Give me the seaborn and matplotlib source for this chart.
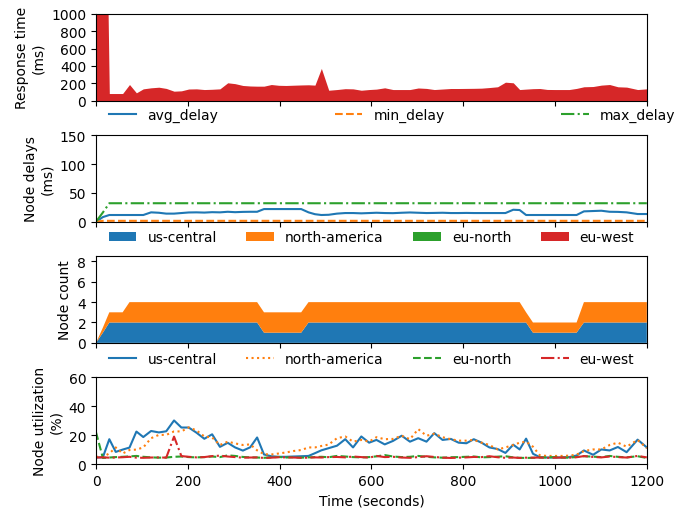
import matplotlib
matplotlib.use("Agg")
import matplotlib.pyplot as plt
import pandas as pd
import seaborn as sns

time_s = [0, 15, 29, 43, 58, 73, 88, 103, 120, 137,
          153, 170, 186, 202, 219, 236, 253, 270, 287, 303,
          320, 336, 351, 366, 382, 398, 414, 430, 447, 463,
          477, 491, 507, 525, 543, 560, 578, 595, 611, 629,
          647, 666, 684, 702, 720, 737, 755, 773, 790, 807,
          823, 840, 857, 875, 892, 909, 923, 937, 952, 967,
          983, 999, 1015, 1031, 1047, 1063, 1083, 1101, 1119, 1137,
          1156, 1180, 1200]

response_ms = [5000, 5000, 81, 81, 81, 185, 89, 135, 147, 154,
               140, 108, 112, 133, 135, 127, 130, 135, 205, 195,
               174, 168, 166, 166, 185, 176, 174, 177, 180, 182,
               178, 371, 119, 127, 137, 135, 119, 127, 132, 147,
               127, 127, 127, 145, 140, 127, 133, 139, 139, 140,
               141, 143, 150, 159, 212, 205, 127, 132, 137, 139,
               128, 127, 127, 127, 140, 159, 162, 178, 185, 159,
               155, 127, 135]

avg_delay = [0, 8, 11.6, 11.6, 11.6, 11.6, 11.6, 11.6, 16.2, 15.5,
             14, 14, 15, 16, 16.2, 15.8, 16.5, 16.2, 17.2, 16.5,
             17, 17.2, 17.2, 21.9, 21.9, 21.9, 21.9, 21.9, 21.9, 16.2,
             13, 11.6, 12, 14, 15, 15, 14.5, 15, 15.5, 15,
             14.8, 15.5, 16, 15.5, 15, 15.2, 15.5, 15, 15, 15.2,
             15, 15, 15, 15, 15, 20.7, 20.2, 11.6, 11.6, 11.6,
             11.6, 11.6, 11.6, 11.6, 11.6, 17.9, 18.5, 19, 17.2, 17,
             16.2, 13.3, 13.3]

min_delay = [0, 1.5, 1.5, 1.5, 1.5, 1.5, 1.5, 1.5, 1.5, 1.5,
             1.5, 1.5, 1.5, 1.5, 1.5, 1.5, 1.5, 1.5, 1.5, 1.5,
             1.5, 1.5, 1.5, 1.5, 1.5, 1.5, 1.5, 1.5, 1.5, 1.5,
             1.5, 1.5, 1.5, 1.5, 1.5, 1.5, 1.5, 1.5, 1.5, 1.5,
             1.5, 1.5, 1.5, 1.5, 1.5, 1.5, 1.5, 1.5, 1.5, 1.5,
             1.5, 1.5, 1.5, 1.5, 1.5, 1.5, 1.5, 1.5, 1.5, 1.5,
             1.5, 1.5, 1.5, 1.5, 1.5, 1.5, 1.5, 1.5, 1.5, 1.5,
             1.5, 1.5, 1.5]

max_delay = [0, 16, 32, 32, 32, 32, 32, 32, 32, 32,
             32, 32, 32, 32, 32, 32, 32, 32, 32, 32,
             32, 32, 32, 32, 32, 32, 32, 32, 32, 32,
             32, 32, 32, 32, 32, 32, 32, 32, 32, 32,
             32, 32, 32, 32, 32, 32, 32, 32, 32, 32,
             32, 32, 32, 32, 32, 32, 32, 32, 32, 32,
             32, 32, 32, 32, 32, 32, 32, 32, 32, 32,
             32, 32, 32]

regions = ["us-central", "north-america", "eu-north", "eu-west"]

count_us_central = [0, 1, 2, 2, 2, 2, 2, 2, 2, 2,
                    2, 2, 2, 2, 2, 2, 2, 2, 2, 2,
                    2, 2, 2, 1, 1, 1, 1, 1, 1, 2,
                    2, 2, 2, 2, 2, 2, 2, 2, 2, 2,
                    2, 2, 2, 2, 2, 2, 2, 2, 2, 2,
                    2, 2, 2, 2, 2, 2, 2, 2, 1, 1,
                    1, 1, 1, 1, 1, 2, 2, 2, 2, 2,
                    2, 2, 2]
count_north_america = [0, 0.5, 1, 1, 1, 2, 2, 2, 2, 2,
                       2, 2, 2, 2, 2, 2, 2, 2, 2, 2,
                       2, 2, 2, 2, 2, 2, 2, 2, 2, 2,
                       2, 2, 2, 2, 2, 2, 2, 2, 2, 2,
                       2, 2, 2, 2, 2, 2, 2, 2, 2, 2,
                       2, 2, 2, 2, 2, 2, 2, 1, 1, 1,
                       1, 1, 1, 1, 1, 2, 2, 2, 2, 2,
                       2, 2, 2]
count_eu_north = [0, 0, 0, 0, 0, 0, 0, 0, 0, 0,
                  0, 0, 0, 0, 0, 0, 0, 0, 0, 0,
                  0, 0, 0, 0, 0, 0, 0, 0, 0, 0,
                  0, 0, 0, 0, 0, 0, 0, 0, 0, 0,
                  0, 0, 0, 0, 0, 0, 0, 0, 0, 0,
                  0, 0, 0, 0, 0, 0, 0, 0, 0, 0,
                  0, 0, 0, 0, 0, 0, 0, 0, 0, 0,
                  0, 0, 0]
count_eu_west = [0, 0, 0, 0, 0, 0, 0, 0, 0, 0,
                 0, 0, 0, 0, 0, 0, 0, 0, 0, 0,
                 0, 0, 0, 0, 0, 0, 0, 0, 0, 0,
                 0, 0, 0, 0, 0, 0, 0, 0, 0, 0,
                 0, 0, 0, 0, 0, 0, 0, 0, 0, 0,
                 0, 0, 0, 0, 0, 0, 0, 0, 0, 0,
                 0, 0, 0, 0, 0, 0, 0, 0, 0, 0,
                 0, 0, 0]

util_us_central = [4.5, 4.7, 17.2, 8.4, 10, 11.4, 22.5, 18.7, 22.9, 21.9,
                   22.7, 30.2, 25.3, 25.3, 21.7, 17.5, 20.6, 11.9, 14.7, 11.5,
                   9.3, 11.6, 18.4, 6.6, 5.4, 5.0, 5.0, 5.2, 5.4, 5.6,
                   7.5, 9.5, 11, 12.7, 17.2, 11.5, 19.1, 14.8, 16.7, 13.6,
                   16, 19.6, 15.5, 17.9, 15.5, 21.4, 16.7, 17.4, 14.8, 14.4,
                   17.2, 14.8, 11.5, 10.4, 7.7, 13.4, 10.1, 17.6, 7.1, 4.7,
                   4.5, 4.5, 4.6, 4.8, 5.9, 9.4, 6.4, 10.1, 9.4, 11.8,
                   8.2, 16.9, 11.5]
util_north_america = [5, 5, 7.3, 11.5, 7.3, 9.7, 10, 11.5, 17.9, 20.2,
                      20.2, 22.6, 22.6, 25.4, 23.3, 19.1, 18.4, 13.2, 15.5, 14.3,
                      13.2, 13.6, 9.5, 6.8, 6.6, 7.3, 8, 9, 9.7, 11.5,
                      11.5, 12.5, 13.5, 17.9, 19.1, 15.5, 16.7, 15.5, 18.6, 17.2,
                      17.4, 19.6, 17.2, 24.2, 19.6, 21, 18.6, 17.2, 16.2, 16.2,
                      16.7, 14.8, 13.2, 10.1, 11.5, 13.2, 14.8, 15.5, 12, 6,
                      5.6, 5.6, 5.6, 5.8, 6.5, 9, 10.1, 10.1, 13.2, 14.8,
                      12, 16.7, 11]
util_eu_north = [22, 4.2, 4.5, 4.8, 5.0, 5.3, 5.6, 5.0, 4.6, 4.4,
                 4.5, 5.0, 5.2, 4.8, 4.6, 4.8, 5.2, 4.8, 6.0, 5.6,
                 4.9, 4.6, 4.5, 4.3, 4.6, 4.9, 4.5, 4.7, 4.4, 4.6,
                 4.8, 5.0, 4.7, 5.6, 5.2, 4.8, 4.6, 4.8, 5.3, 6.2,
                 5.2, 4.8, 5.0, 5.6, 5.0, 4.6, 4.4, 4.7, 4.8, 5.0,
                 5.2, 4.6, 4.8, 5.1, 5.4, 4.6, 4.3, 4.2, 4.3, 4.5,
                 4.6, 4.8, 4.5, 4.4, 4.9, 5.4, 5.1, 4.8, 5.6, 5.0,
                 4.6, 5.4, 4.2]
util_eu_west = [4.5, 4.6, 4.4, 4.5, 4.7, 5.0, 4.4, 4.3, 4.5, 4.6,
                4.4, 19.0, 5.5, 5.0, 4.6, 4.8, 5.5, 5.8, 5.2, 4.8,
                4.4, 4.5, 4.6, 4.2, 4.4, 4.7, 4.6, 4.5, 4.3, 4.4,
                4.6, 4.5, 4.8, 4.9, 4.6, 5.2, 4.8, 4.4, 5.6, 4.8,
                5.0, 4.5, 4.3, 4.8, 5.4, 4.9, 4.4, 4.2, 4.4, 4.6,
                4.9, 4.8, 5.4, 4.7, 4.3, 4.5, 4.2, 4.4, 4.4, 4.5,
                4.3, 4.4, 4.5, 4.4, 4.7, 5.5, 4.9, 4.6, 5.2, 4.8,
                4.5, 5.6, 4.6]

x_ticks = [0, 200, 400, 600, 800, 1000, 1200]
resp_ticks = [0, 200, 400, 600, 800, 1000]
delay_ticks = [0, 50, 100, 150]
count_ticks = [0, 2, 4, 6, 8]
util_ticks = [0, 20, 40, 60]

delays = pd.DataFrame({"time": time_s, "avg_delay": avg_delay,
                       "min_delay": min_delay, "max_delay": max_delay})
util = pd.DataFrame({"time": time_s, "us-central": util_us_central,
                     "north-america": util_north_america,
                     "eu-north": util_eu_north, "eu-west": util_eu_west})

fig, axes = plt.subplots(4, 1, figsize=(6.78, 5.10), dpi=100, sharex=True)
fig.subplots_adjust(left=0.1416, right=0.954, top=0.9706, bottom=0.0882, hspace=0.4)

# Panel 1: response time
ax = axes[0]
ax.fill_between(time_s, response_ms, color="C3", linewidth=0)
ax.set_ylim(0, 1000)
ax.set_yticks(resp_ticks)
ax.set_ylabel("Response time\n(ms)")

# Panel 2: node delays
ax = axes[1]
styles = {"avg_delay": ("C0", "-"), "min_delay": ("C1", "--"), "max_delay": ("C2", "-.")}
for col, (c, ls) in styles.items():
    sns.lineplot(data=delays, x="time", y=col, ax=ax, color=c, linestyle=ls, label=col)
ax.set_ylim(0, 150)
ax.set_yticks(delay_ticks)
ax.set_ylabel("Node delays\n(ms)")
ax.set_xlabel("")
ax.legend(loc="center", bbox_to_anchor=(0, 1.23, 1.075, 0), mode="expand", ncol=3,
          frameon=False)

# Panel 3: node count
ax = axes[2]
ax.stackplot(time_s, count_us_central, count_north_america, count_eu_north,
             count_eu_west, labels=regions, colors=["C0", "C1", "C2", "C3"])
ax.set_ylim(0, 8.5)
ax.set_yticks(count_ticks)
ax.set_ylabel("Node count")
ax.legend(loc="center", bbox_to_anchor=(0, 1.22, 1, 0), mode="expand", ncol=4,
          frameon=False)

# Panel 4: utilization
ax = axes[3]
ustyles = {"us-central": ("C0", "-"), "north-america": ("C1", ":"),
           "eu-north": ("C2", "--"), "eu-west": ("C3", "-.")}
for col, (c, ls) in ustyles.items():
    sns.lineplot(data=util, x="time", y=col, ax=ax, color=c, linestyle=ls, label=col)
ax.set_ylim(0, 60)
ax.set_yticks(util_ticks)
ax.set_ylabel("Node utilization\n(%)")
ax.legend(loc="center", bbox_to_anchor=(0, 1.21, 1, 0), mode="expand", ncol=4,
          frameon=False)

ax.set_xlim(0, 1200)
ax.set_xticks(x_ticks)
ax.set_xlabel("Time (seconds)")

fig.savefig("out.png", dpi=100)
